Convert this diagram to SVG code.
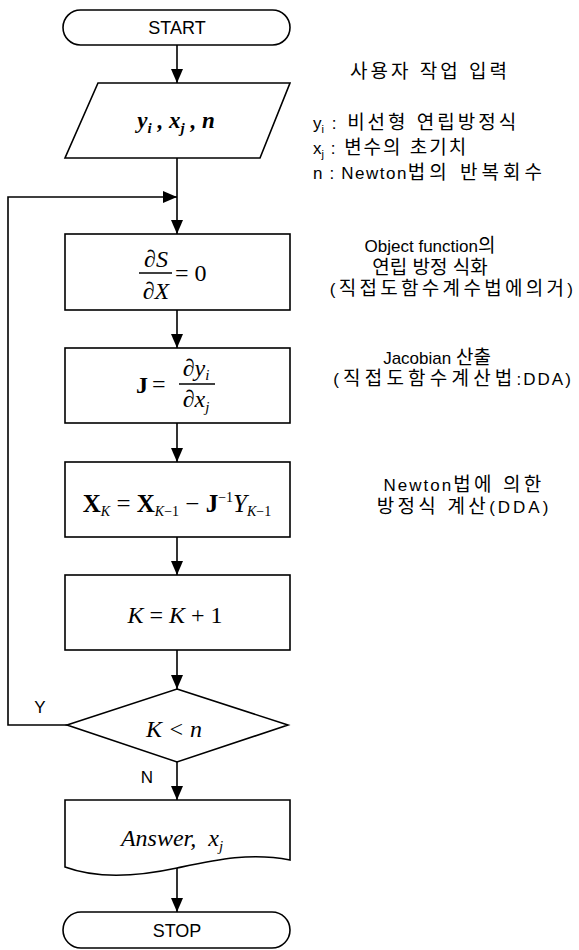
<svg xmlns="http://www.w3.org/2000/svg" width="579" height="950" viewBox="0 0 579 950">
<style>
.shape{fill:#fff;stroke:#000;stroke-width:1.6}
.conn{fill:none;stroke:#000;stroke-width:1.6}
.lbl{font-family:"Liberation Sans","Noto Sans CJK KR",sans-serif;font-size:17px;fill:#000}
.k{font-size:19px}
.term{font-family:"Liberation Sans",sans-serif;font-size:18px;fill:#000}
.m{font-family:"Liberation Serif",serif;font-size:24px;fill:#000}
.it{font-style:italic}
.b{font-weight:bold}
.sub{font-size:15px}
.ssub{font-size:14px}
</style>
<defs>
<marker id="arr" markerUnits="userSpaceOnUse" markerWidth="14" markerHeight="12" refX="14" refY="6" orient="auto">
<path d="M0,0 L14,6 L0,12 z" fill="#000"/>
</marker>
</defs>
<rect width="579" height="950" fill="#fff"/>

<g id="connectors">
<path class="conn" d="M177,45 V83" marker-end="url(#arr)"/>
<path class="conn" d="M177,158 V234" marker-end="url(#arr)"/>
<path class="conn" d="M67,725 H8 V197 H177" marker-end="url(#arr)"/>
<path class="conn" d="M177,310 V348" marker-end="url(#arr)"/>
<path class="conn" d="M177,423 V462" marker-end="url(#arr)"/>
<path class="conn" d="M177,537 V575" marker-end="url(#arr)"/>
<path class="conn" d="M177,650 V689" marker-end="url(#arr)"/>
<path class="conn" d="M177,762 V800" marker-end="url(#arr)"/>
<path class="conn" d="M177,868 V912" marker-end="url(#arr)"/>
<text class="lbl" x="40" y="713" text-anchor="middle">Y</text>
<text class="lbl" x="147" y="783" text-anchor="middle">N</text>
</g>

<g id="start">
<rect class="shape" x="63" y="10" width="227" height="35" rx="17.5"/>
<text class="term" x="177" y="34" text-anchor="middle">START</text>
</g>

<g id="input">
<polygon class="shape" points="98,83 290,83 260,158 65,158"/>
<text class="m it b" x="176" y="128" text-anchor="middle" style="font-size:23px">y<tspan class="sub" dy="5">i</tspan><tspan dy="-5"> , x</tspan><tspan class="sub" dy="5">j</tspan><tspan dy="-5"> , n</tspan></text>
</g>

<g id="objective">
<rect class="shape" x="65" y="234" width="225" height="76"/>
<text class="m it" x="156" y="267" text-anchor="middle">∂S</text>
<line x1="139" y1="273" x2="172" y2="273" stroke="#000" stroke-width="1.3"/>
<text class="m it" x="156" y="299" text-anchor="middle">∂X</text>
<text class="m" x="175" y="281">= 0</text>
</g>

<g id="jacobian">
<rect class="shape" x="65" y="348" width="225" height="75"/>
<text class="m b" x="136" y="393">J</text>
<text class="m" x="152" y="392">=</text>
<line x1="179" y1="384" x2="215" y2="384" stroke="#000" stroke-width="1.3"/>
<text class="m it" x="196" y="376" text-anchor="middle">∂y<tspan class="sub" dy="4">i</tspan></text>
<text class="m it" x="196" y="407" text-anchor="middle">∂x<tspan class="sub" dy="5">j</tspan></text>
</g>

<g id="newton">
<rect class="shape" x="65" y="462" width="225" height="75"/>
<text class="m" x="177" y="512" text-anchor="middle" style="font-size:25px"><tspan class="b">X</tspan><tspan class="it ssub" dy="4">K</tspan><tspan dy="-4"> = </tspan><tspan class="b">X</tspan><tspan class="ssub" dy="4"><tspan class="it">K</tspan>−1</tspan><tspan dy="-4"> − </tspan><tspan class="b">J</tspan><tspan class="ssub" dy="-10">−1</tspan><tspan class="it" dy="10">Y</tspan><tspan class="ssub" dy="4"><tspan class="it">K</tspan>−1</tspan></text>
</g>

<g id="increment">
<rect class="shape" x="65" y="575" width="225" height="75"/>
<text class="m" x="175" y="623" text-anchor="middle"><tspan class="it">K</tspan> = <tspan class="it">K</tspan> + 1</text>
</g>

<g id="decision">
<polygon class="shape" points="177,689 288,725 177,762 67,725"/>
<text class="m it" x="174" y="737" text-anchor="middle">K &lt; n</text>
</g>

<g id="output">
<path class="shape" d="M65,800 H290 V860 C250,852 215,860 177,868 C140,876 100,880 65,867 Z"/>
<text class="m it" x="172" y="846" text-anchor="middle">Answer,  <tspan dx="6">x</tspan><tspan class="sub" dy="5">j</tspan></text>
</g>

<g id="stop">
<rect class="shape" x="63" y="912" width="227" height="36" rx="18"/>
<text class="term" x="177" y="937" text-anchor="middle">STOP</text>
</g>

<g id="notes">
<text class="lbl k" x="430" y="78" text-anchor="middle" style="letter-spacing:3px">사용자 작업 입력</text>
<text class="lbl" x="313" y="129">y<tspan style="font-size:11px" dy="4">i</tspan><tspan dy="-4" style="letter-spacing:3px"> : <tspan class="k">비선형 연립방정식</tspan></tspan></text>
<text class="lbl" x="313" y="154">x<tspan style="font-size:11px" dy="4">j</tspan><tspan dy="-4" style="letter-spacing:2px"> : <tspan class="k">변수의 초기치</tspan></tspan></text>
<text class="lbl" x="313" y="179">n<tspan dx="7">:</tspan><tspan dx="7" style="letter-spacing:1.5px">Newton</tspan><tspan class="k" style="letter-spacing:4px">법의 반복회수</tspan></text>
<text class="lbl" x="430" y="252" text-anchor="middle">Object function<tspan class="k">의</tspan></text>
<text class="lbl k" x="430" y="274" text-anchor="middle">연립 방정 식화</text>
<text class="lbl" x="453" y="295" text-anchor="middle" style="letter-spacing:3.3px">(<tspan class="k">직접도함수계수법에의거</tspan>)</text>
<text class="lbl" x="437" y="364" text-anchor="middle">Jacobian <tspan class="k">산출</tspan></text>
<text class="lbl" x="453" y="385" text-anchor="middle"><tspan style="letter-spacing:4.2px">(<tspan class="k">직접도함수계산법</tspan></tspan><tspan style="letter-spacing:2px">:DDA)</tspan></text>
<text class="lbl" x="464" y="491" text-anchor="middle"><tspan style="letter-spacing:2px">Newton</tspan><tspan class="k" style="letter-spacing:3.2px">법에 의한</tspan></text>
<text class="lbl" x="464" y="513" text-anchor="middle"><tspan class="k" style="letter-spacing:3.3px">방정식 계산</tspan><tspan style="letter-spacing:3px">(DDA)</tspan></text>
</g>
</svg>
